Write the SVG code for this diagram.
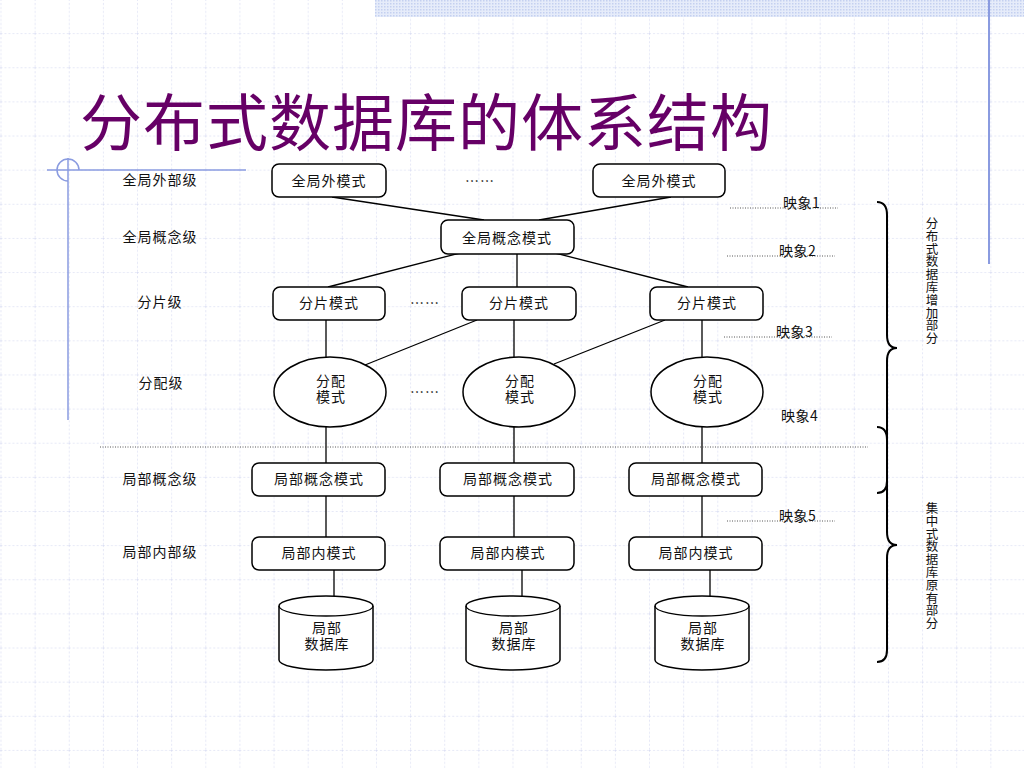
<svg xmlns="http://www.w3.org/2000/svg" width="1024" height="768" viewBox="0 0 1024 768">
<defs>
<pattern id="grid" width="34.133" height="34.133" patternUnits="userSpaceOnUse" x="0.5" y="-1">
<path d="M0 0 V34.133 M0 0 H34.133" fill="none" stroke="#ccd1ee" stroke-width="1" stroke-dasharray="2 2"/>
</pattern>
<pattern id="dots" width="3" height="3" patternUnits="userSpaceOnUse">
<rect width="3" height="3" fill="#e6ecfa"/>
<rect width="1.5" height="1.5" fill="#c4d0f0"/>
</pattern>
<style>
.bg{fill:#ffffff}
.deco{stroke:#8a9be0;fill:none}
.box{fill:#ffffff;stroke:#000;stroke-width:1.5}
.ln{stroke:#000;stroke-width:1.3;fill:none}
.dot{stroke:#444;stroke-width:0.9;stroke-dasharray:1 1.5;fill:none}
.brace{stroke:#000;stroke-width:2;fill:none}
text{font-family:"Noto Sans CJK SC","Liberation Serif",serif;fill:#111}
.t{font-size:14px;text-anchor:middle;letter-spacing:1px}
.lbl{font-size:14px;text-anchor:middle;letter-spacing:1px}
.map{font-size:14px;letter-spacing:0.5px}
.vt{font-size:12.5px;writing-mode:vertical-rl;letter-spacing:0.3px}
.title{font-size:62px;fill:#660066}
</style>
</defs>
<rect class="bg" width="1024" height="768"/>
<rect width="1024" height="768" fill="url(#grid)"/>
<rect x="375" y="0" width="649" height="17" fill="url(#dots)"/>
<line class="deco" x1="989" y1="0" x2="989" y2="264" stroke-width="2"/>
<line class="deco" x1="47" y1="170" x2="246" y2="170" stroke-width="1.5"/>
<line class="deco" x1="68" y1="158" x2="68" y2="420" stroke-width="1.5"/>
<path class="deco" d="M68,181 A11,11 0 1 1 79,170" stroke-width="1.5"/>

<text class="title" x="80" y="146" letter-spacing="1">分布式数据库的体系结构</text>

<g id="levels">
<text class="lbl" x="160" y="185">全局外部级</text>
<text class="lbl" x="160" y="242">全局概念级</text>
<text class="lbl" x="160" y="307">分片级</text>
<text class="lbl" x="161" y="388">分配级</text>
<text class="lbl" x="160" y="484">局部概念级</text>
<text class="lbl" x="160" y="557">局部内部级</text>
</g>

<g id="connectors">
<line class="ln" x1="332" y1="197" x2="484" y2="220"/>
<line class="ln" x1="671" y1="197" x2="539" y2="220"/>
<line class="ln" x1="460" y1="253" x2="328" y2="287"/>
<line class="ln" x1="517" y1="254" x2="517" y2="287"/>
<line class="ln" x1="555" y1="253" x2="688" y2="287"/>
<line class="ln" x1="326" y1="320" x2="326" y2="358"/>
<line class="ln" x1="477" y1="320" x2="365" y2="365"/>
<line class="ln" x1="514" y1="320" x2="514" y2="357"/>
<line class="ln" x1="665" y1="320" x2="554" y2="364"/>
<line class="ln" x1="702" y1="320" x2="702" y2="357"/>
<line class="ln" x1="326" y1="427" x2="326" y2="463"/>
<line class="ln" x1="514" y1="427" x2="514" y2="463"/>
<line class="ln" x1="702" y1="427" x2="702" y2="463"/>
<line class="ln" x1="326" y1="496" x2="326" y2="537"/>
<line class="ln" x1="514" y1="496" x2="514" y2="537"/>
<line class="ln" x1="702" y1="496" x2="702" y2="537"/>
<line class="ln" x1="334" y1="570" x2="334" y2="598"/>
<line class="ln" x1="522" y1="570" x2="522" y2="598"/>
<line class="ln" x1="710" y1="570" x2="710" y2="598"/>
</g>

<g id="ext1"><rect class="box" x="272" y="164" width="114" height="33" rx="7"/><text class="t" x="329" y="186">全局外模式</text></g>
<text id="dots1" class="t" x="480" y="186" letter-spacing="0">……</text>
<g id="ext2"><rect class="box" x="593" y="164" width="132" height="33" rx="7"/><text class="t" x="659" y="186">全局外模式</text></g>

<g id="gcs"><rect class="box" x="441" y="220" width="133" height="34" rx="7"/><text class="t" x="507" y="243">全局概念模式</text></g>

<g id="frag1"><rect class="box" x="273" y="287" width="112" height="33" rx="7"/><text class="t" x="329" y="308">分片模式</text></g>
<text id="dots2" class="t" x="425" y="308" letter-spacing="0">……</text>
<g id="frag2"><rect class="box" x="462" y="287" width="114" height="33" rx="7"/><text class="t" x="519" y="308">分片模式</text></g>
<g id="frag3"><rect class="box" x="650" y="287" width="113" height="33" rx="7"/><text class="t" x="707" y="308">分片模式</text></g>

<g id="alloc1"><ellipse class="box" cx="330" cy="392" rx="56" ry="35"/><text class="t"><tspan x="331" y="386">分配</tspan><tspan x="331" dy="16">模式</tspan></text></g>
<text id="dots3" class="t" x="425" y="397" letter-spacing="0">……</text>
<g id="alloc2"><ellipse class="box" cx="519" cy="392" rx="56" ry="35"/><text class="t"><tspan x="520" y="386">分配</tspan><tspan x="520" dy="16">模式</tspan></text></g>
<g id="alloc3"><ellipse class="box" cx="707" cy="392" rx="56" ry="35"/><text class="t"><tspan x="708" y="386">分配</tspan><tspan x="708" dy="16">模式</tspan></text></g>

<line id="divider" class="dot" x1="100" y1="447" x2="868" y2="447"/>

<g id="lcs1"><rect class="box" x="252" y="463" width="133" height="33" rx="7"/><text class="t" x="319" y="484">局部概念模式</text></g>
<g id="lcs2"><rect class="box" x="440" y="463" width="134" height="33" rx="7"/><text class="t" x="508" y="484">局部概念模式</text></g>
<g id="lcs3"><rect class="box" x="629" y="463" width="133" height="33" rx="7"/><text class="t" x="696" y="484">局部概念模式</text></g>

<g id="lis1"><rect class="box" x="252" y="537" width="133" height="33" rx="7"/><text class="t" x="319" y="558">局部内模式</text></g>
<g id="lis2"><rect class="box" x="440" y="537" width="134" height="33" rx="7"/><text class="t" x="508" y="558">局部内模式</text></g>
<g id="lis3"><rect class="box" x="629" y="537" width="133" height="33" rx="7"/><text class="t" x="696" y="558">局部内模式</text></g>

<g id="db1"><path class="box" d="M279,606 A47,10 0 0 1 373,606 V660 A47,10 0 0 1 279,660 Z"/><path class="ln" d="M279,606 A47,10 0 0 0 373,606" stroke-width="1.5"/><text class="t"><tspan x="327" y="633">局部</tspan><tspan x="327" dy="16">数据库</tspan></text></g>
<g id="db2"><path class="box" d="M466,606 A47,10 0 0 1 560,606 V660 A47,10 0 0 1 466,660 Z"/><path class="ln" d="M466,606 A47,10 0 0 0 560,606" stroke-width="1.5"/><text class="t"><tspan x="514" y="633">局部</tspan><tspan x="514" dy="16">数据库</tspan></text></g>
<g id="db3"><path class="box" d="M655,606 A47,10 0 0 1 749,606 V660 A47,10 0 0 1 655,660 Z"/><path class="ln" d="M655,606 A47,10 0 0 0 749,606" stroke-width="1.5"/><text class="t"><tspan x="703" y="633">局部</tspan><tspan x="703" dy="16">数据库</tspan></text></g>

<g id="mappings">
<line class="dot" x1="730" y1="208" x2="838" y2="208"/><text class="map" x="783" y="208">映象1</text>
<line class="dot" x1="727" y1="256" x2="835" y2="256"/><text class="map" x="779" y="256">映象2</text>
<line class="dot" x1="724" y1="337" x2="832" y2="337"/><text class="map" x="776" y="337">映象3</text>
<text class="map" x="781" y="421">映象4</text>
<line class="dot" x1="727" y1="521" x2="835" y2="521"/><text class="map" x="779" y="521">映象5</text>
</g>

<g id="braces">
<path class="brace" d="M877,202 Q887,202 887,215 V335 Q887,348 897,348 Q887,348 887,361 V481 Q887,493 877,493"/>
<path class="brace" d="M877,427 Q887,427 887,440 V532 Q887,545 897,545 Q887,545 887,558 V650 Q887,662 877,662"/>
</g>

<text id="vt1" class="vt" x="932" y="217">分布式数据库增加部分</text>
<text id="vt2" class="vt" x="932" y="502">集中式数据库原有部分</text>
</svg>
